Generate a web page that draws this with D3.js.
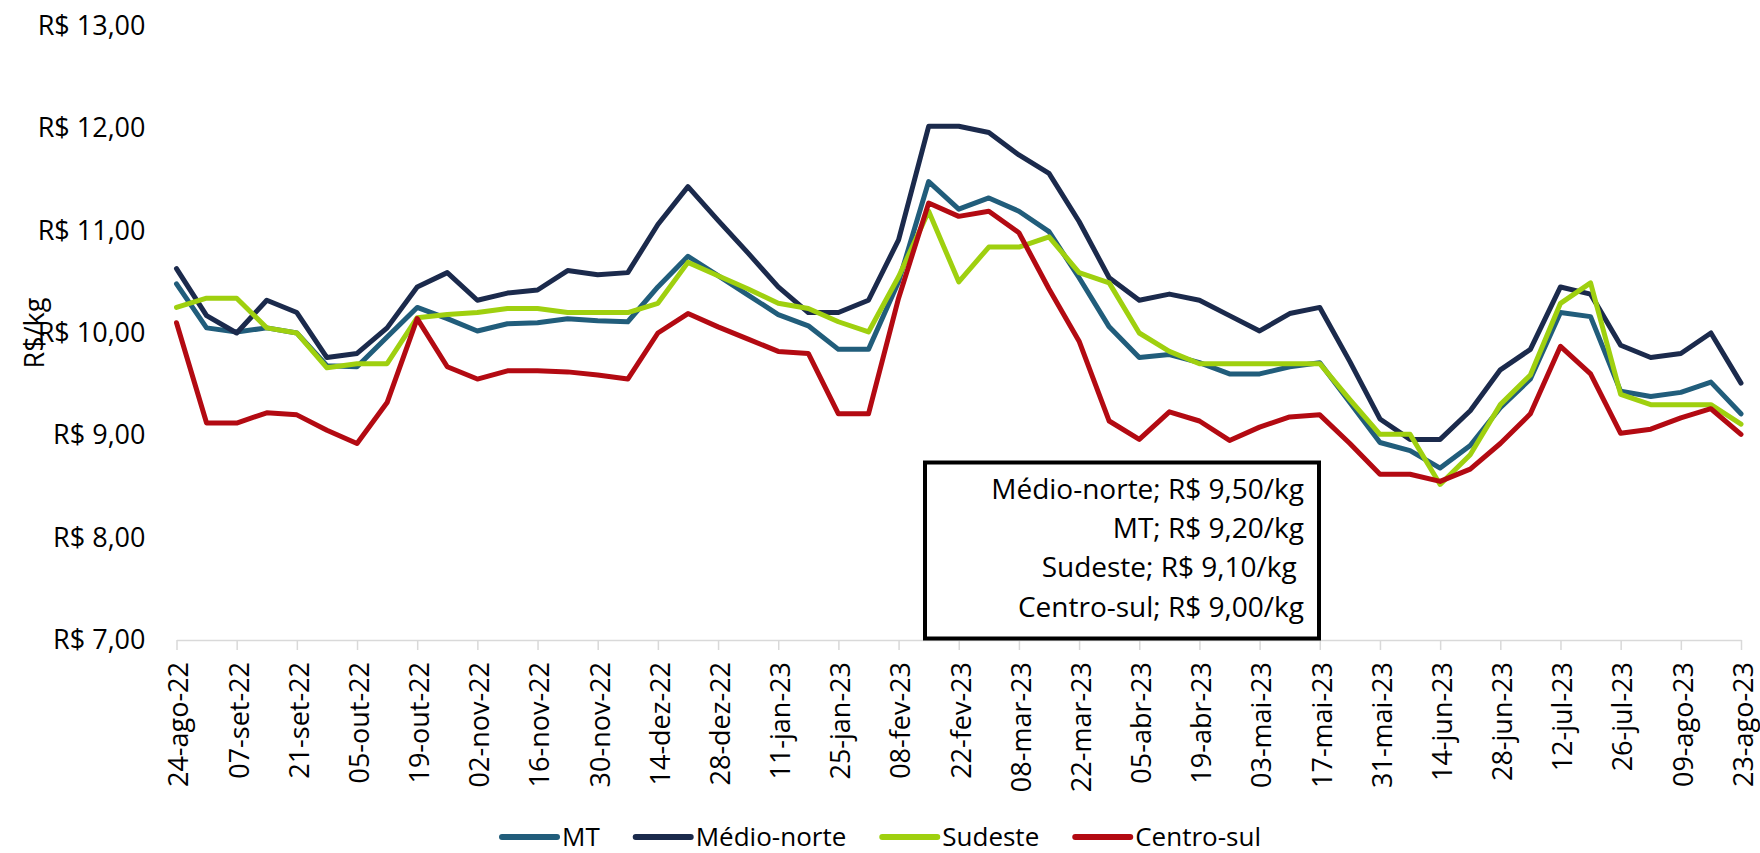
<!DOCTYPE html>
<html>
<head>
<meta charset="utf-8">
<script src="https://cdn.jsdelivr.net/npm/d3@7"></script>
<style>
  html, body { margin: 0; padding: 0; background: #fff; }
  svg { display: block; font-family: "Open Sans", "Noto Sans", sans-serif; }
</style>
</head>
<body>
<svg id="chart" width="1760" height="853"></svg>
<script>
const categories = [
  "24-ago-22","31-ago-22","07-set-22","14-set-22","21-set-22","28-set-22","05-out-22","12-out-22",
  "19-out-22","26-out-22","02-nov-22","09-nov-22","16-nov-22","23-nov-22","30-nov-22","07-dez-22",
  "14-dez-22","21-dez-22","28-dez-22","04-jan-23","11-jan-23","18-jan-23","25-jan-23","01-fev-23",
  "08-fev-23","15-fev-23","22-fev-23","01-mar-23","08-mar-23","15-mar-23","22-mar-23","29-mar-23",
  "05-abr-23","12-abr-23","19-abr-23","26-abr-23","03-mai-23","10-mai-23","17-mai-23","24-mai-23",
  "31-mai-23","07-jun-23","14-jun-23","21-jun-23","28-jun-23","05-jul-23","12-jul-23","19-jul-23",
  "26-jul-23","02-ago-23","09-ago-23","16-ago-23","23-ago-23"
];

const mtValues = [
  10.48,10.05,10.01,10.05,10.00,9.68,9.67,9.96,10.25,10.14,10.02,10.09,10.10,10.14,10.12,10.11,
  10.45,10.75,10.56,10.37,10.18,10.07,9.84,9.84,10.50,11.48,11.21,11.32,11.19,10.99,10.54,10.06,
  9.76,9.79,9.71,9.60,9.60,9.67,9.71,9.32,8.93,8.85,8.68,8.90,9.27,9.55,10.20,10.16,
  9.43,9.38,9.42,9.52,9.21
];

const medioNorteValues = [
  10.63,10.17,10.00,10.32,10.20,9.76,9.80,10.05,10.45,10.59,10.32,10.39,10.42,10.61,10.57,10.59,
  11.06,11.43,11.10,10.78,10.45,10.20,10.20,10.32,10.91,12.02,12.02,11.96,11.74,11.56,11.09,10.54,
  10.32,10.38,10.32,10.17,10.02,10.19,10.25,9.72,9.16,8.96,8.96,9.24,9.64,9.84,10.45,10.38,
  9.88,9.76,9.80,10.00,9.51
];

const sudesteValues = [
  10.25,10.34,10.34,10.05,10.00,9.66,9.70,9.70,10.15,10.18,10.20,10.24,10.24,10.20,10.20,10.20,
  10.29,10.69,10.56,10.43,10.29,10.24,10.11,10.01,10.55,11.19,10.50,10.84,10.84,10.94,10.59,10.49,
  10.00,9.82,9.70,9.70,9.70,9.70,9.70,9.35,9.01,9.01,8.52,8.81,9.30,9.59,10.29,10.49,
  9.40,9.30,9.30,9.30,9.11
];

const centroSulValues = [
  10.10,9.12,9.12,9.22,9.20,9.05,8.92,9.32,10.14,9.67,9.55,9.63,9.63,9.62,9.59,9.55,
  10.00,10.19,10.06,9.94,9.82,9.80,9.21,9.21,10.34,11.27,11.14,11.19,10.98,10.43,9.92,9.14,
  8.96,9.23,9.14,8.95,9.08,9.18,9.20,8.92,8.62,8.62,8.55,8.67,8.92,9.21,9.87,9.60,
  9.02,9.06,9.17,9.26,9.01
];

const seriesNames = ["MT", "Médio-norte", "Sudeste", "Centro-sul"];
const seriesColors = ["#215d7b", "#1b2a4c", "#9fd00f", "#b30a12"];
const yTicks = [7, 8, 9, 10, 11, 12, 13];
const xTickLabels = categories.filter((d, i) => i % 2 === 0);
const yTitle = "R$/kg";
const annotationLines = [
  "Médio-norte; R$ 9,50/kg",
  "MT; R$ 9,20/kg",
  "Sudeste; R$ 9,10/kg ",
  "Centro-sul; R$ 9,00/kg"
];

const series = [mtValues, medioNorteValues, sudesteValues, centroSulValues].map((vals, k) => ({
  name: seriesNames[k], color: seriesColors[k], values: vals
}));

const svg = d3.select("#chart");
const FS = 27;

const x = d3.scalePoint().domain(categories).range([176.5, 1741]);
const y = d3.scaleLinear().domain([7, 13]).range([640, 26]);

const locale = d3.formatLocale({decimal: ",", thousands: ".", grouping: [3], currency: ["R$ ", ""]});
const fmt = locale.format("$.2f");

// Y axis (labels only)
const yAxis = svg.append("g")
  .attr("transform", `translate(${x.range()[0]},0)`)
  .call(d3.axisLeft(y).tickValues(yTicks).tickFormat(fmt).tickSize(0).tickPadding(31));
yAxis.select(".domain").remove();
yAxis.selectAll("text")
  .attr("fill", "#000")
  .style("font-size", FS + "px")
  .style("font-family", "'Open Sans', sans-serif");

// X axis
const xAxis = svg.append("g")
  .attr("transform", `translate(0,${y(7)})`)
  .call(d3.axisBottom(x).tickValues(xTickLabels).tickSize(10).tickSizeOuter(0));
xAxis.select(".domain").attr("stroke", "#d9d9d9").attr("stroke-width", 1.5);
xAxis.selectAll(".tick line").attr("stroke", "#d9d9d9").attr("stroke-width", 1.5);
xAxis.selectAll(".tick text")
  .attr("fill", "#000")
  .style("font-size", FS + "px")
  .style("font-family", "'Open Sans', sans-serif")
  .attr("transform", "rotate(-90)")
  .attr("x", -22)
  .attr("y", 0)
  .attr("dy", "0.42em")
  .style("text-anchor", "end");

// Y title
svg.append("text")
  .attr("transform", `translate(44,333) rotate(-90)`)
  .attr("text-anchor", "middle")
  .style("font-size", FS + "px")
  .attr("fill", "#000")
  .text(yTitle);

// Lines
const line = d3.line()
  .x((d, i) => x(categories[i]))
  .y(d => y(d));

svg.append("g").selectAll("path")
  .data(series)
  .join("path")
  .attr("d", d => line(d.values))
  .attr("fill", "none")
  .attr("stroke", d => d.color)
  .attr("stroke-width", 5)
  .attr("stroke-linejoin", "round")
  .attr("stroke-linecap", "round");

// Annotation box
const box = svg.append("g");
box.append("rect")
  .attr("x", 925).attr("y", 462.5)
  .attr("width", 394).attr("height", 176)
  .attr("fill", "#fff")
  .attr("stroke", "#000")
  .attr("stroke-width", 4);
const baselines = [499, 538, 577, 617];
box.selectAll("text.ann")
  .data(annotationLines)
  .join("text")
  .attr("class", "ann")
  .attr("x", 1304)
  .attr("y", (d, i) => baselines[i])
  .attr("text-anchor", "end")
  .style("white-space", "pre")
  .style("font-size", "28px")
  .attr("fill", "#000")
  .text(d => d);

// Legend
const legend = svg.append("g");
let lx = 502;
const ly = 837;
series.forEach(s => {
  legend.append("line")
    .attr("x1", lx).attr("x2", lx + 55)
    .attr("y1", ly).attr("y2", ly)
    .attr("stroke", s.color)
    .attr("stroke-width", 6)
    .attr("stroke-linecap", "round");
  const t = legend.append("text")
    .attr("x", lx + 60)
    .attr("y", ly)
    .attr("dy", "0.35em")
    .style("font-size", "26px")
    .attr("fill", "#000")
    .text(s.name);
  lx = lx + 60 + t.node().getComputedTextLength() + 36;
});
</script>
</body>
</html>
